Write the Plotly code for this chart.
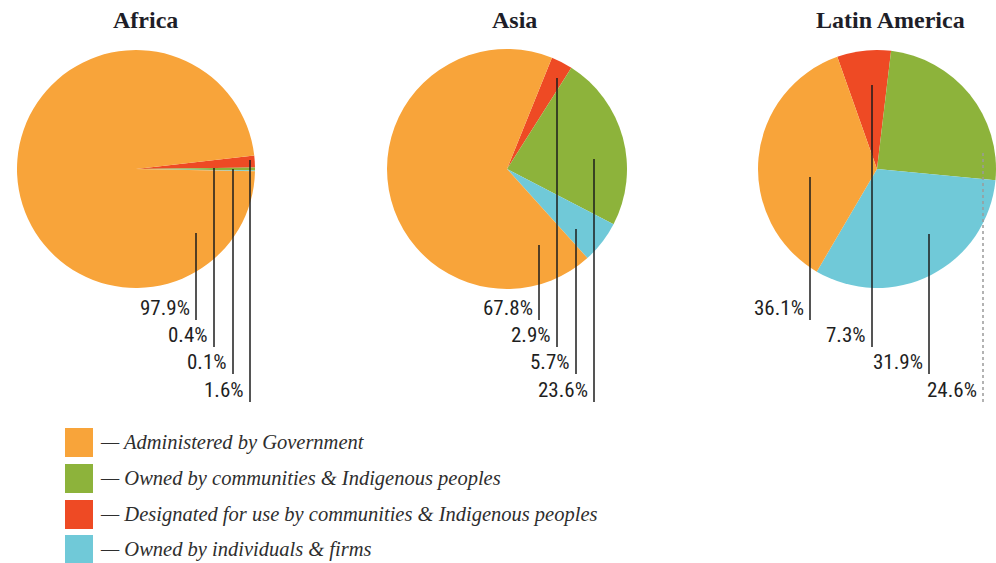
import plotly.graph_objects as go

W, H = 996, 563

# ---------------- data ----------------
regions = ["Africa", "Asia", "Latin America"]
categories = [
    "Administered by Government",
    "Owned by communities & Indigenous peoples",
    "Designated for use by communities & Indigenous peoples",
    "Owned by individuals & firms",
]
government = [97.9, 67.8, 36.1]
owned_communities = [0.4, 23.6, 24.6]
designated_communities = [1.6, 2.9, 7.3]
individuals_firms = [0.1, 5.7, 31.9]

# ---------------- styles / layout ----------------
colors = ["#F8A43A", "#8DB33B", "#EE4A24", "#70C9D8"]
series = [government, owned_communities, designated_communities, individuals_firms]

# clockwise slice order inside each pie: designated, owned, individuals, government
slice_order = [2, 1, 3, 0]
rotations = [83.5, 22, -19.5]
centers = [(136, 169, 119), (507, 169, 120), (877, 169, 119)]
title_x = [145, 514, 890]

# order in which the percentage labels are stacked (category indices)
label_order = [[0, 1, 3, 2], [0, 2, 3, 1], [0, 2, 3, 1]]
# leader line (x, top) per label slot
leaders = [
    [(196, 233), (214, 168), (233, 169), (250, 160)],
    [(539, 245), (557, 78), (576, 229), (594, 159)],
    [(810, 177), (872, 85), (929, 234), (983, 153)],
]
slot_bottoms = [318, 345, 372, 400]

LABEL_FONT = dict(family="Roboto, Open Sans, sans-serif", size=21, color="#1f1f1f")
SERIF = "Liberation Serif, Times New Roman, serif"


def px(x):
    return x / W


def py(y):
    return 1 - y / H


fig = go.Figure()
shapes = []
annotations = []

for i, region in enumerate(regions):
    cx, cy, r = centers[i]
    fig.add_trace(go.Pie(
        labels=[categories[k] for k in slice_order],
        values=[series[k][i] for k in slice_order],
        marker=dict(colors=[colors[k] for k in slice_order], line=dict(width=0)),
        sort=False,
        direction="clockwise",
        rotation=rotations[i],
        textinfo="none",
        hoverinfo="label+value",
        showlegend=False,
        domain=dict(x=[px(cx - r), px(cx + r)], y=[py(cy + r), py(cy - r)]),
    ))
    annotations.append(dict(
        x=px(title_x[i]), y=py(20), xref="paper", yref="paper",
        text=region, showarrow=False, xanchor="center", yanchor="middle",
        font=dict(family=SERIF, size=24, color="#1e1e28", weight="bold"),
    ))
    for s, k in enumerate(label_order[i]):
        lx, top = leaders[i][s]
        bottom = slot_bottoms[s]
        dotted = (i == 2 and s == 3)
        shapes.append(dict(
            type="line", xref="paper", yref="paper", layer="above",
            x0=px(lx), x1=px(lx), y0=py(top), y1=py(bottom + 2),
            line=dict(color="#9a9a9a" if dotted else "#1c1c1c",
                      width=1.5, dash="dot" if dotted else "solid"),
        ))
        annotations.append(dict(
            x=px(lx - 4), y=py(bottom + 4), xref="paper", yref="paper",
            text=f"<span style='font-stretch:condensed'>{series[k][i]:.1f}%</span>",
            showarrow=False, xanchor="right", yanchor="bottom",
            font=LABEL_FONT,
        ))

# legend
legend_tops = [428, 464, 500, 535]
for j, cat in enumerate(categories):
    t = legend_tops[j]
    shapes.append(dict(
        type="rect", xref="paper", yref="paper", layer="above",
        x0=px(65), x1=px(93), y0=py(t + 29), y1=py(t),
        fillcolor=colors[j], line=dict(width=0),
    ))
    annotations.append(dict(
        x=px(98), y=py(t + 14), xref="paper", yref="paper",
        text="— " + cat, showarrow=False, xanchor="left", yanchor="middle",
        font=dict(family=SERIF, size=20.5, color="#2e2e2e", style="italic"),
    ))

fig.update_layout(
    width=W, height=H,
    margin=dict(l=0, r=0, t=0, b=0),
    paper_bgcolor="white", plot_bgcolor="white",
    shapes=shapes, annotations=annotations,
)

fig.write_html("out.html")
